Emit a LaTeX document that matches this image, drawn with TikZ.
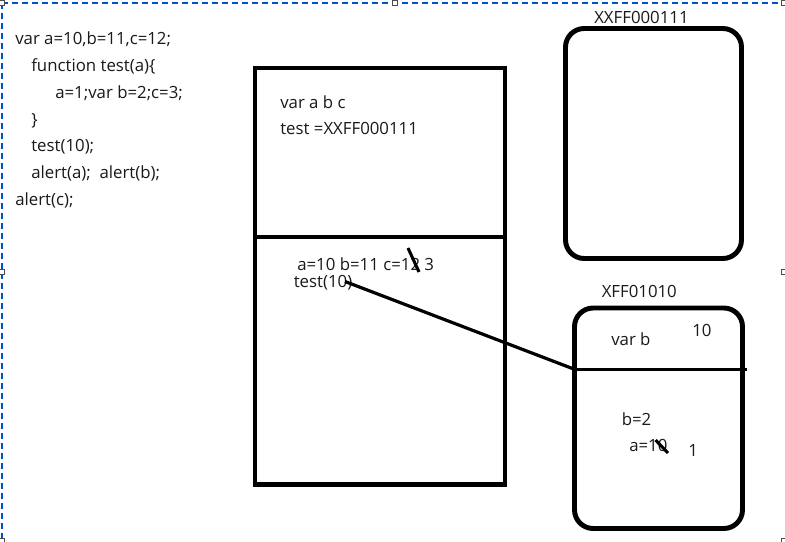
\documentclass[tikz,border=0pt]{standalone}
\usepackage{fontspec}
\setmainfont{Open Sans}
\begin{document}
\begin{tikzpicture}[x=0.75pt,y=-0.75pt,
  txt/.style={anchor=base west,inner sep=0pt,font=\fontsize{12.6pt}{14pt}\selectfont,text=black!90},
  boxline/.style={line width=3.4pt},
  roundbox/.style={line width=3.7pt,rounded corners=14pt},
  strike/.style={line width=2.3pt},
  frame/.style={draw=blue!60!cyan!80!black,line width=0.8pt,dash pattern=on 4.5pt off 3pt},
  handle/.style={draw=black!70,fill=white,line width=0.6pt,minimum size=4pt,inner sep=0pt}]
\useasboundingbox (0,0) rectangle (785,542);
% selection frame
\draw[frame] (2,3) -- (784.5,3);
\draw[frame] (2,3) -- (2,541);
\foreach \p/\n in {{(2,3)}/h1,{(395,3)}/h2,{(784,3)}/h3,{(2,272)}/h4,{(784,272)}/h5,{(2,541)}/h6,{(784,541)}/h7}
  \node[handle] (\n) at \p {};
% code
\node[txt] (c1) at (15,44.3) {var a=10,b=11,c=12;};
\node[txt] (c2) at (31,71.2) {function test(a)\{};
\node[txt] (c3) at (55,98.1) {a=1;var b=2;c=3;};
\node[txt] (c4) at (31,125) {\}};
\node[txt] (c5) at (31,151.9) {test(10);};
\node[txt] (c6) at (31,178.8) {alert(a);\ \ alert(b);};
\node[txt] (c7) at (15,205.7) {alert(c);};
% big box
\draw[boxline] (255,68) rectangle (505,484.5);
\draw[boxline] (255,237) -- (505,237);
\node[txt] (g1) at (280,108.3) {var a b c};
\node[txt] (g2) at (280,134) {test =XXFF000111};
\node[txt] (g3) at (297,270) {a=10 b=11 c=12 3};
\node[txt] (g4) at (293.5,287) {test(10)};
\draw[strike] (408,248) -- (419,272);
% top right box
\draw[roundbox] (565.5,28.5) rectangle (741.5,258.5);
\node[txt] (l1) at (594,24) {XXFF000111};
% bottom right box
\draw[roundbox] (574.5,308) rectangle (742.5,528.5);
\node[txt] (l2) at (601.5,297) {XFF01010};
\coordinate (dl) at (574.5,369.3);
\coordinate (dr) at (747,369.3);
\draw[line width=2.5pt] (dl) -- (dr);
\node[txt] (s1) at (611,345) {var b};
\node[txt] (s2) at (692,336) {10};
\node[txt] (s3) at (621.5,425) {b=2};
\node[txt] (s4) at (629,451.7) {a=10};
\node[txt] (s5) at (688,456) {1};
\draw[strike] (655.5,440) -- (668,453);
% connector
\coordinate (cs) at (345,281.5);
\draw[line width=2.4pt] (cs) -- (dl);
\end{tikzpicture}
\end{document}
